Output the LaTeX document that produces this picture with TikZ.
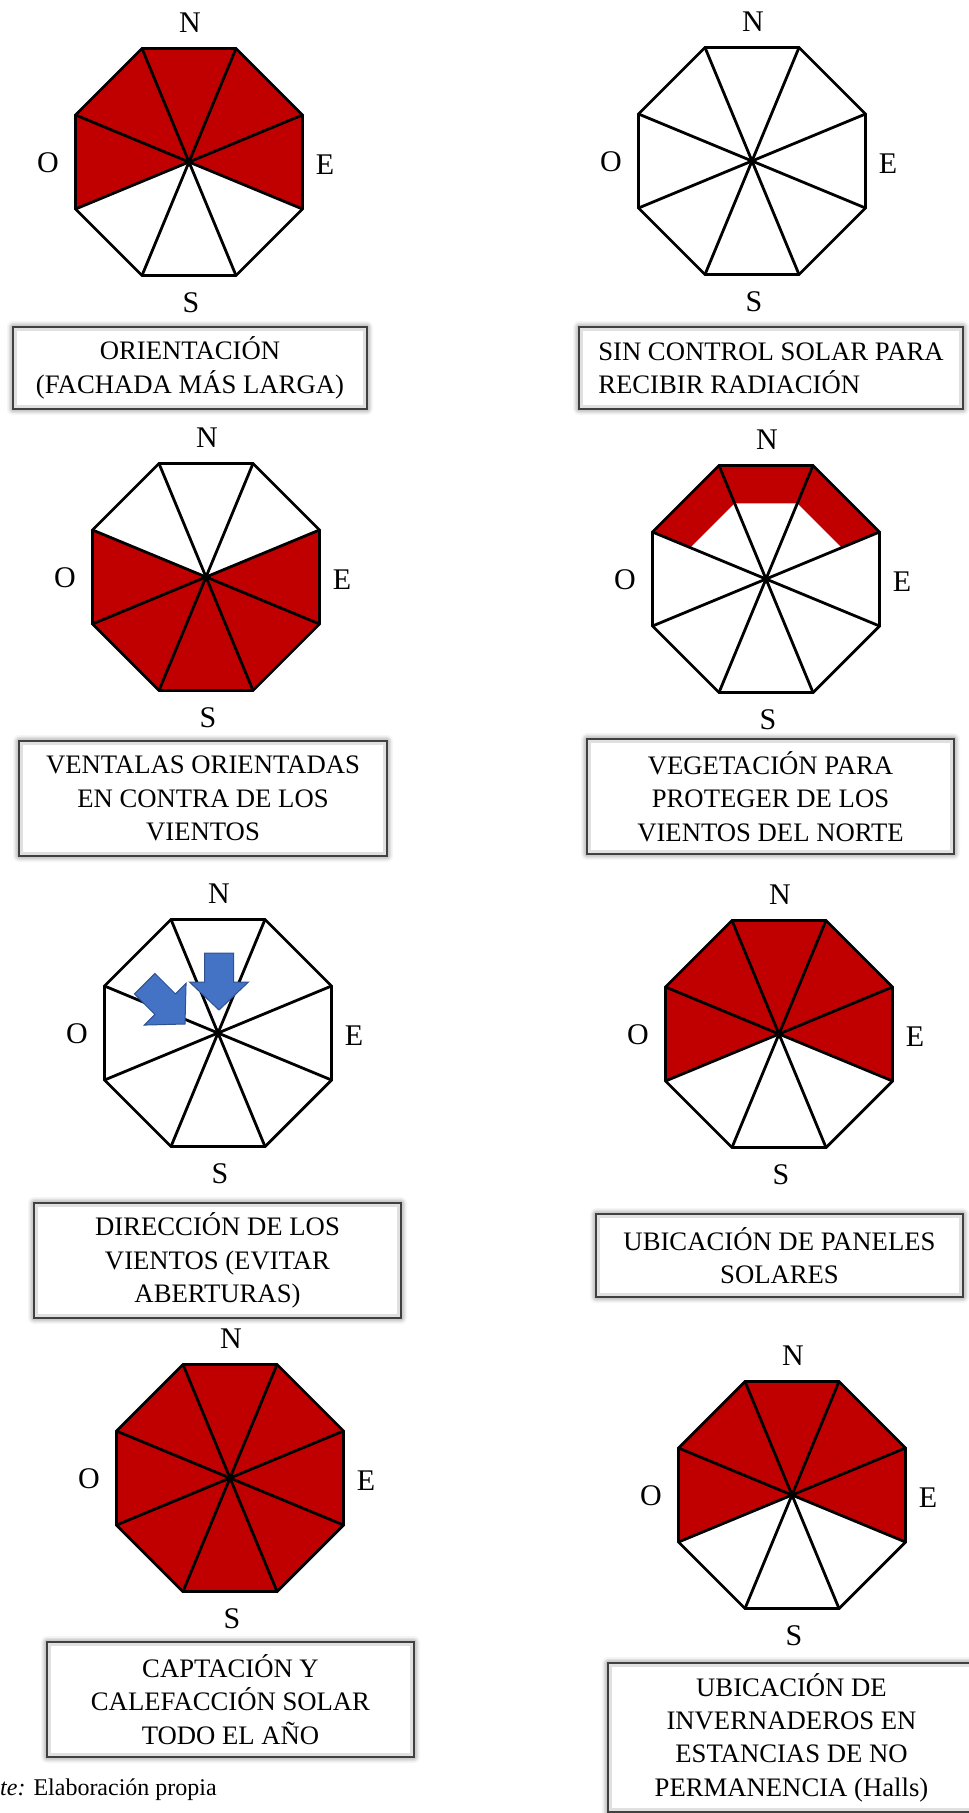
\documentclass[tikz,border=0pt]{standalone}
\usepackage{fontspec}
\setmainfont{Liberation Serif}
\usetikzlibrary{shadows.blur}
\definecolor{rojo}{HTML}{C00000}
\definecolor{azul}{HTML}{4472C4}
\definecolor{azulborde}{HTML}{2F528F}

\begin{document}
\begin{tikzpicture}[
    x=1pt, y=1pt,
    rosa/.style={line width=2.8pt, line join=miter},
    sector/.style={fill=rojo},
    punto/.style={inner sep=0pt, font=\fontsize{30}{36}\selectfont},
    cuadro/.style={draw=black!75, line width=1.4pt, fill=white, align=center, inner sep=0pt,
        font=\fontsize{26.7}{33.3}\selectfont,
        blur shadow={shadow xshift=0pt, shadow yshift=0pt, shadow blur radius=6pt, shadow opacity=65},
        path picture={\draw[black!12, line width=8pt] (path picture bounding box.south west)
            rectangle (path picture bounding box.north east);}},
    viento/.style={fill=azul, draw=azulborde, line width=1pt},
    pie/.style={inner sep=0pt, font=\fontsize{24}{29}\selectfont}
]
\useasboundingbox (0,0) rectangle (969,-1813);

% centros de las rosas
\coordinate (c1) at (189,-162);
\coordinate (c2) at (752,-161);
\coordinate (c3) at (206,-577);
\coordinate (c4) at (766,-579);
\coordinate (c5) at (218,-1033);
\coordinate (c6) at (779,-1034);
\coordinate (c7) at (230,-1478);
\coordinate (c8) at (792,-1495);

% sectores en rojo
\foreach \c in {c1,c6,c8}
  \foreach \a in {0,45,90,135,180}
    \fill[sector, shift={(\c)}] (0,0) -- (\a-22.5:122.85) -- (\a+22.5:122.85) -- cycle;
\foreach \a in {0,180,225,270,315}
  \fill[sector, shift={(c3)}] (0,0) -- (\a-22.5:122.85) -- (\a+22.5:122.85) -- cycle;
\foreach \a in {0,45,...,315}
  \fill[sector, shift={(c7)}] (0,0) -- (\a-22.5:122.85) -- (\a+22.5:122.85) -- cycle;
\fill[sector, shift={(c4)}] (22.5:122.85) -- (67.5:122.85) -- (112.5:122.85) -- (157.5:122.85)
  -- (157.5:82) -- (112.5:82) -- (67.5:82) -- (22.5:82) -- cycle;

% octogonos, radios y puntos cardinales
\foreach \i in {1,...,8} {
  \begin{scope}[shift={(c\i)}]
    \draw[rosa] (22.5:122.85) \foreach \a in {67.5,112.5,...,337.5} {-- (\a:122.85)} -- cycle;
    \foreach \a in {22.5,67.5,...,337.5}
      \draw[rosa] (0,0) -- (\a:122.85);
    \node[punto] (n\i) at (1,139) {N};
    \node[punto] (s\i) at (2,-141) {S};
    \node[punto] (o\i) at (-141,-1) {O};
    \node[punto] (e\i) at (136,-3) {E};
  \end{scope}
}

% flechas de viento
\draw[viento, shift={(c5)}, shift={(1,23)}, rotate=-90] (0,0) -- (-28,29.5) -- (-28,14.5)
  -- (-57,14.5) -- (-57,-14.5) -- (-28,-14.5) -- (-28,-29.5) -- cycle;
\draw[viento, shift={(c5)}, shift={(-33,9)}, rotate=-45] (0,0) -- (-28,29.5) -- (-28,14.5)
  -- (-57,14.5) -- (-57,-14.5) -- (-28,-14.5) -- (-28,-29.5) -- cycle;

% cuadros de texto
\node[cuadro, minimum width=354pt, minimum height=82pt] (t1) at (190,-368)
  {ORIENTACIÓN\\(FACHADA MÁS LARGA)};
\node[cuadro, align=left, minimum width=384pt, minimum height=82pt] (t2) at (771,-368)
  {SIN CONTROL SOLAR PARA\\RECIBIR RADIACIÓN};
\node[cuadro, minimum width=368pt, minimum height=115pt] (t3) at (203,-798.5)
  {VENTALAS ORIENTADAS\\EN CONTRA DE LOS\\VIENTOS};
\node[cuadro, minimum width=367pt, minimum height=115pt] (t4) at (770.5,-796.5)
  {VEGETACIÓN PARA\\PROTEGER DE LOS\\VIENTOS DEL NORTE};
\node[cuadro, minimum width=367pt, minimum height=115pt] (t5) at (217.5,-1260.5)
  {DIRECCIÓN DE LOS\\VIENTOS (EVITAR\\ABERTURAS)};
\node[cuadro, minimum width=367pt, minimum height=83pt] (t6) at (779.5,-1255.5)
  {UBICACIÓN DE PANELES\\SOLARES};
\node[cuadro, minimum width=367pt, minimum height=115pt] (t7) at (230.5,-1699.5)
  {CAPTACIÓN Y\\CALEFACCIÓN SOLAR\\TODO EL AÑO};
\node[cuadro, minimum width=367pt, minimum height=149pt] (t8) at (791.5,-1737.5)
  {UBICACIÓN DE\\INVERNADEROS EN\\ESTANCIAS DE NO\\PERMANENCIA (Halls)};

\node[pie, anchor=base west] (fuente) at (0,-1795) {\textit{te:} Elaboración propia};
\end{tikzpicture}
\end{document}
